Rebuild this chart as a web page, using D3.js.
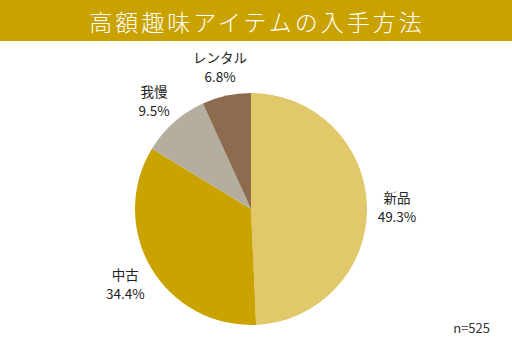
<!DOCTYPE html>
<html><head><meta charset="utf-8">
<script src="https://cdn.jsdelivr.net/npm/d3@7/dist/d3.min.js"></script>
<style>body{margin:0;background:#fff}svg{display:block}</style>
</head><body>
<svg id="c" width="512" height="354"></svg>
<script>
const title = "高額趣味アイテムの入手方法";
const categories = ["新品", "中古", "我慢", "レンタル"];
const values = [49.3, 34.4, 9.5, 6.8];
const colors = ["#e0c86b", "#caa300", "#b4ae9e", "#8c6b4f"];
const note = "n=525";

const svg = d3.select("#c");
const W = 512, H = 354;
const font = "'Noto Sans CJK JP','Noto Sans',sans-serif";

svg.append("rect").attr("x",0).attr("y",0).attr("width",W).attr("height",41).attr("fill","#c9a200");
svg.append("text").attr("x",W/2+1).attr("y",31).attr("text-anchor","middle")
  .attr("fill","#fff").attr("font-family",font).attr("font-size",23).attr("font-weight",300)
  .attr("letter-spacing",3).text(title);

const cx = 251, cy = 209, R = 116;
const data = categories.map((c,i)=>({cat:c, v:values[i], col:colors[i]}));
const pie = d3.pie().value(d=>d.v).sort(null);
const arcs = pie(data);
const arc = d3.arc().innerRadius(0).outerRadius(R);
const labelArc = d3.arc().innerRadius(146).outerRadius(146);

const g = svg.append("g").attr("transform",`translate(${cx},${cy})`);
g.selectAll("path").data(arcs).join("path").attr("d",arc).attr("fill",d=>d.data.col);

const lg = g.selectAll("g.l").data(arcs).join("g").attr("class","l")
  .attr("transform",d=>{const [x,y]=labelArc.centroid(d);return `translate(${x},${y})`;});
lg.append("text").attr("text-anchor","middle").attr("font-family",font).attr("font-size",13.5)
  .attr("fill","#222").attr("y",-3).text(d=>d.data.cat);
lg.append("text").attr("text-anchor","middle").attr("font-family",font).attr("font-size",13.5)
  .attr("fill","#222").attr("y",16).text(d=>d.data.v.toFixed(1)+"%");

svg.append("text").attr("x",490).attr("y",333).attr("text-anchor","end")
  .attr("font-family",font).attr("font-size",13).attr("fill","#333").text(note);
</script>
</body></html>
